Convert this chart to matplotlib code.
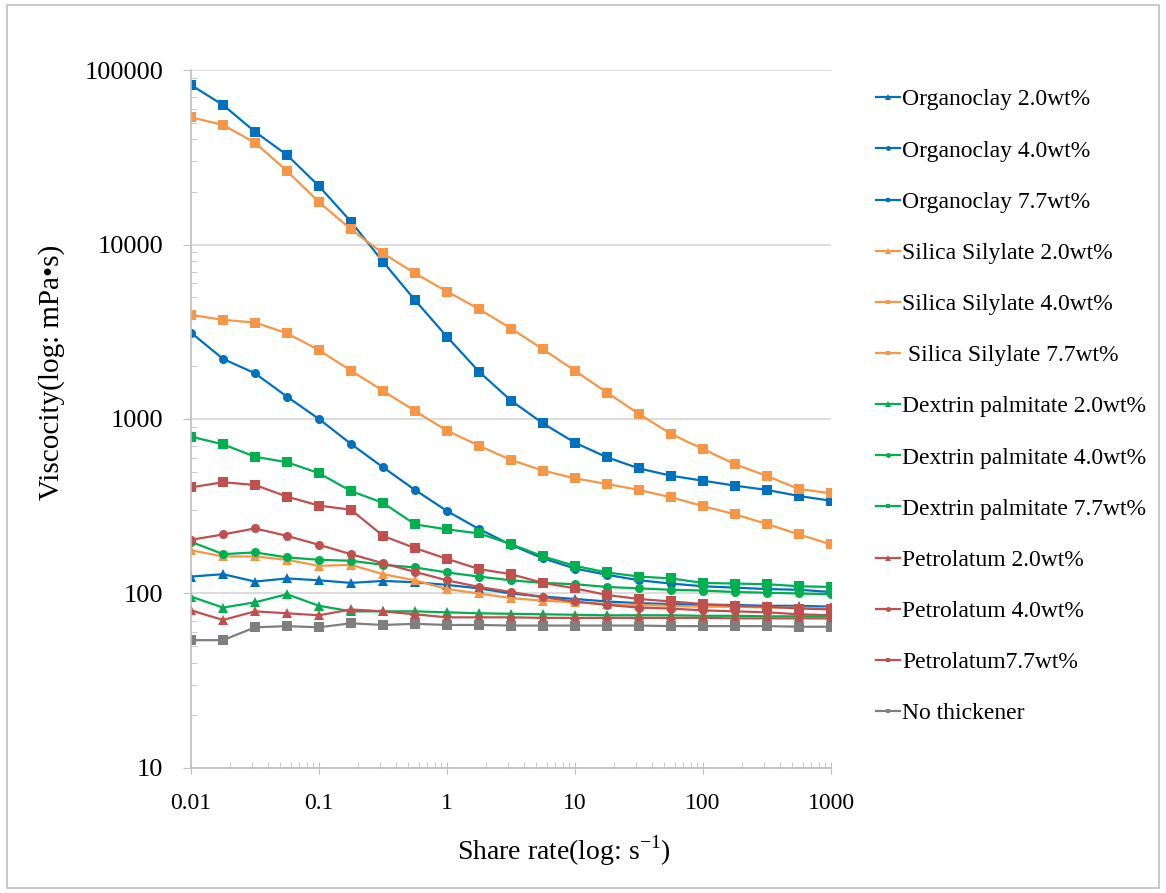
# %%
#! viscosity vs shear rate for thickener samples (log-log)

import numpy as np
import matplotlib
matplotlib.use('Agg')
import matplotlib.pyplot as plt
from matplotlib.ticker import FixedLocator, FuncFormatter, LogLocator, NullFormatter
from matplotlib.patches import Rectangle

plt.rcParams['font.family'] = ['Liberation Serif', 'DejaVu Serif']
plt.rcParams['mathtext.fontset'] = 'custom'
plt.rcParams['mathtext.rm'] = 'Liberation Serif'

#* shear rate, 4 points per decade
shear_rate = [0.01, 0.0178, 0.0316, 0.0562, 0.1, 0.178, 0.316, 0.562, 1, 1.78, 3.16,
              5.62, 10, 17.8, 31.6, 56.2, 100, 178, 316, 562, 1000]

organoclay_20 = [125, 129, 117, 122, 119, 115, 118, 116, 112, 107, 100, 96, 93, 90, 88, 87, 86, 86, 85, 85, 84]
organoclay_40 = [3125, 2210, 1828, 1343, 1000, 719, 529, 392, 297, 234, 190, 159, 139, 128, 119, 114, 110, 108, 106, 105, 102]
organoclay_77 = [82000, 63000, 44300, 32600, 21600, 13500, 7970, 4800, 2960, 1866, 1276, 944, 731, 603, 521, 473, 443, 415, 392, 362, 340]
silica_20 = [177, 163, 163, 156, 144, 146, 129, 119, 106, 100, 94, 91, 89, 87, 86, 85, 84, 84, 83, 83, 82]
silica_40 = [3945, 3700, 3570, 3100, 2480, 1890, 1452, 1111, 857, 703, 582, 506, 457, 424, 392, 356, 317, 284, 250, 218, 191]
silica_77 = [53600, 48400, 38300, 26400, 17500, 12200, 8900, 6840, 5370, 4270, 3300, 2510, 1890, 1416, 1069, 821, 673, 550, 471, 397, 375]
dextrin_20 = [96, 83, 89, 99, 85, 79, 79, 79, 78, 77, 76.5, 76, 75.5, 75, 75, 75, 74.5, 74.5, 74, 74, 74]
dextrin_40 = [198, 168, 172, 161, 156, 154, 146, 141, 132, 125, 119, 115, 113, 109, 107, 105, 104, 102, 101, 100, 99]
dextrin_77 = [792, 716, 608, 565, 489, 386, 331, 249, 233, 221, 192, 163, 144, 132, 125, 122, 115, 114, 113, 110, 109]
petro_20 = [80, 70.5, 79, 77, 75, 81, 79, 76, 73, 73, 73, 72.5, 72.5, 72.5, 72.5, 72.5, 72.5, 72, 72, 72, 72]
petro_40 = [203, 218, 236, 214, 190, 168, 149, 133, 119, 109, 102, 95, 90, 86, 83, 82, 80, 79, 78, 76, 75]
petro_77 = [406, 434, 419, 359, 319, 302, 214, 182, 158, 138, 129, 115, 107, 98, 93, 90, 87, 85, 84, 82, 81]
no_thick = [54, 54, 64, 65, 64, 67.5, 66, 67, 66, 66, 65.5, 65.5, 65.5, 65.5, 65.5, 65, 65, 65, 65, 64.5, 64.5]

series_ls = [organoclay_20, organoclay_40, organoclay_77,
             silica_20, silica_40, silica_77,
             dextrin_20, dextrin_40, dextrin_77,
             petro_20, petro_40, petro_77, no_thick]
label_ls = ['Organoclay 2.0wt%', 'Organoclay 4.0wt%', 'Organoclay 7.7wt%',
            'Silica Silylate 2.0wt%', 'Silica Silylate 4.0wt%', ' Silica Silylate 7.7wt%',
            'Dextrin palmitate 2.0wt%', 'Dextrin palmitate 4.0wt%', 'Dextrin palmitate 7.7wt%',
            'Petrolatum 2.0wt%', 'Petrolatum 4.0wt%', 'Petrolatum7.7wt%', 'No thickener']

blue, orange, green, red, gray = '#0070C0', '#F79646', '#00B050', '#C0504D', '#7F7F7F'
color_ls = [blue] * 3 + [orange] * 3 + [green] * 3 + [red] * 3 + [gray]
marker_ls = ['^', 'o', 's', '^', 's', 's', '^', 'o', 's', '^', 'o', 's', 's']
msize_ls = {'^': 7, 'o': 6.5, 's': 6.5}

plt_axes = [0.1638, 0.140, 0.5489, 0.7816]  # left, bottom, width, height

fig = plt.figure(figsize=(11.66, 8.93), dpi=100)
fig.patches.append(Rectangle((0.006, 0.006), 0.988, 0.988, transform=fig.transFigure,
                             fill=False, edgecolor='#BFBFBF', linewidth=1.2))
ax = plt.axes(plt_axes)

for y, lab, c, m in zip(series_ls, label_ls, color_ls, marker_ls):
    ax.plot(shear_rate, y, color=c, marker=m, markersize=msize_ls[m], linewidth=1.6,
            markeredgewidth=0, label=lab)

ax.set_xscale('log')
ax.set_yscale('log')
ax.set_xlim(0.01, 1000)
ax.set_ylim(10, 100000)

ax.xaxis.set_major_locator(FixedLocator([0.01, 0.1, 1, 10, 100, 1000]))
ax.yaxis.set_major_locator(FixedLocator([10, 100, 1000, 10000, 100000]))
ax.xaxis.set_minor_locator(LogLocator(base=10, subs=np.arange(2, 10), numticks=20))
ax.yaxis.set_minor_locator(LogLocator(base=10, subs=np.arange(2, 10), numticks=20))
ax.xaxis.set_minor_formatter(NullFormatter())
ax.yaxis.set_minor_formatter(NullFormatter())
ax.xaxis.set_major_formatter(FuncFormatter(lambda v, p: '{:g}'.format(v)))
ax.yaxis.set_major_formatter(FuncFormatter(lambda v, p: '{:d}'.format(int(round(v)))))

ax.grid(True, which='major', axis='y', color='#D9D9D9', linewidth=1.3)
ax.set_axisbelow(True)
for s in ['top', 'right']:
    ax.spines[s].set_visible(False)
for s in ['left', 'bottom']:
    ax.spines[s].set_color('#BFBFBF')
    ax.spines[s].set_linewidth(1.2)

ax.tick_params(axis='y', which='major', direction='out', length=6, color='#BFBFBF', labelsize=19, pad=14)
ax.tick_params(axis='x', which='major', direction='inout', length=8, color='#BFBFBF', labelsize=17, pad=14)
ax.tick_params(which='minor', direction='in', length=4, color='#BFBFBF')

fig.text(52 / 1166, 1 - 372 / 893, 'Viscocity(log: mPa\u2022s)', fontsize=21,
         rotation=90, ha='center', va='center')
fig.text(564 / 1166, 1 - 851 / 893, 'Share rate(log: s$^{\\mathregular{-1}}$)', fontsize=20,
         ha='center', va='center')

ax.legend(loc='upper left', bbox_to_anchor=(0.7435, 0.911), bbox_transform=fig.transFigure,
          frameon=False, fontsize=17, handlelength=1.0, handletextpad=0.1,
          labelspacing=1.255, markerscale=0.55, borderaxespad=0)

plt.savefig('out.png', dpi=100)
